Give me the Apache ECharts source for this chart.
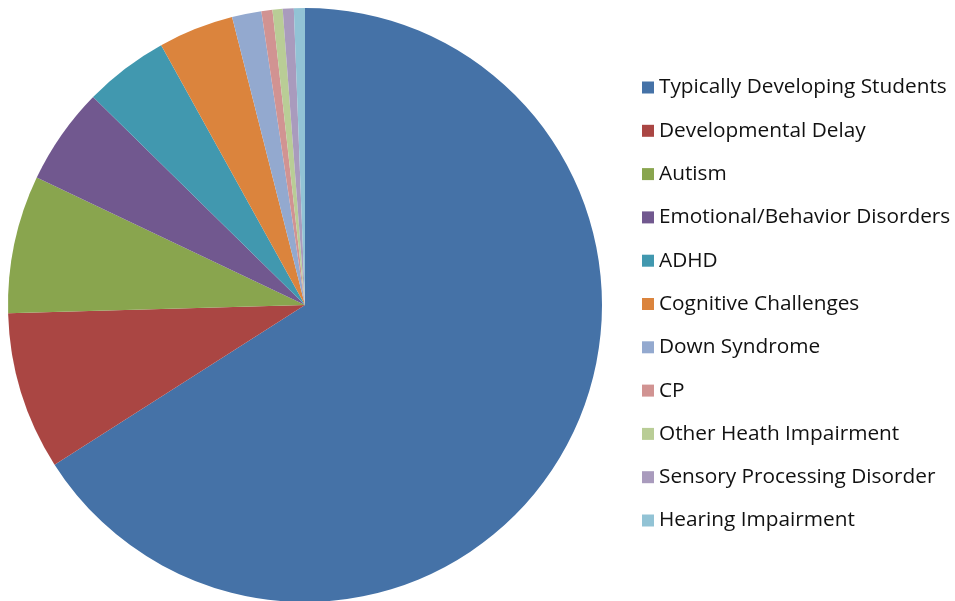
<!DOCTYPE html>
<html>
<head>
<meta charset="utf-8">
<script src="https://cdn.jsdelivr.net/npm/echarts@6/dist/echarts.min.js"></script>
<style>
  html, body { margin: 0; padding: 0; background: #fff; }
  #main { width: 955px; height: 601px; }
</style>
</head>
<body>
<div id="main"></div>
<script>
// categories and their shares (percent)
var categories = [
  'Typically Developing Students',
  'Developmental Delay',
  'Autism',
  'Emotional/Behavior Disorders',
  'ADHD',
  'Cognitive Challenges',
  'Down Syndrome',
  'CP',
  'Other Heath Impairment',
  'Sensory Processing Disorder',
  'Hearing Impairment'
];
var shares = [66.0, 8.6, 7.5, 5.3, 4.6, 4.1, 1.6, 0.6, 0.55, 0.6, 0.6];
var colors = ['#4572A7', '#AA4643', '#89A54E', '#71588F', '#4198AF', '#DB843D',
              '#93A9CF', '#D19392', '#B9CD96', '#A99BBD', '#92C3D5'];

var myChart = echarts.init(document.getElementById('main'));

var pieData = categories.map(function (name, i) {
  return { name: name, value: shares[i] };
});

var option = {
  animation: false,
  color: colors,
  legend: {
    orient: 'vertical',
    left: 637,
    top: 72,
    icon: 'rect',
    itemWidth: 12,
    itemHeight: 12,
    itemGap: 22.3,
    textStyle: {
      fontFamily: 'Open Sans',
      fontSize: 20.8,
      lineHeight: 21,
      color: '#111'
    },
    data: categories
  },
  series: [{
    type: 'pie',
    center: [305, 305],
    radius: [0, 297],
    startAngle: 90,
    clockwise: true,
    label: { show: false },
    labelLine: { show: false },
    emphasis: { disabled: true },
    itemStyle: { borderWidth: 0 },
    data: pieData
  }]
};

myChart.setOption(option);
</script>
</body>
</html>
